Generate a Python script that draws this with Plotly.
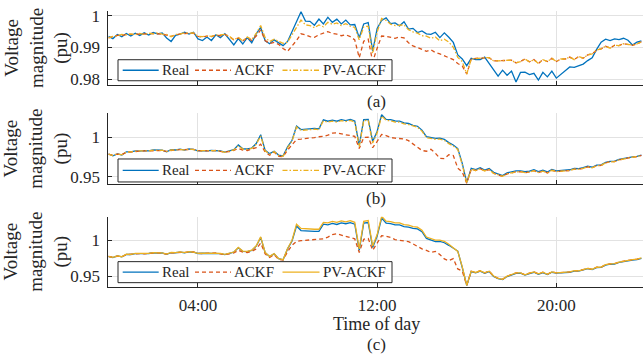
import numpy as np
import plotly.graph_objects as go

# time of day in hours (12-minute samples)
hours = np.round(np.arange(0, 24, 0.2), 1)

# ---------------- panel (a) ----------------
real_a = [0.9935, 0.9928, 0.9941, 0.9934, 0.9944, 0.9936, 0.9945, 0.9938, 0.9946, 0.9939,
          0.9947, 0.9943, 0.9946, 0.9930, 0.9919, 0.9938, 0.9942, 0.9948, 0.9942, 0.9948,
          0.9927, 0.9922, 0.9933, 0.9922, 0.9940, 0.9931, 0.9943, 0.9926, 0.9908, 0.9928,
          0.9911, 0.9931, 0.9915, 0.9943, 0.9963, 0.9921, 0.9912, 0.9924, 0.9914, 0.9906,
          0.9919, 0.9949, 0.9978, 1.0012, 0.9983, 0.9982, 0.9970, 0.9989, 0.9974, 0.9995,
          0.9979, 0.9989, 0.9974, 0.9986, 0.9971, 0.9972, 0.9931, 0.9974, 0.9978, 0.9889,
          0.9960, 0.9985, 0.9993, 0.9975, 0.9977, 0.9968, 0.9981, 0.9958, 0.9960, 0.9947,
          0.9952, 0.9943, 0.9941, 0.9948, 0.9931, 0.9946, 0.9932, 0.9916, 0.9877, 0.9864,
          0.9843, 0.9866, 0.9862, 0.9862, 0.9870, 0.9850, 0.9832, 0.9810, 0.9829, 0.9813,
          0.9826, 0.9792, 0.9822, 0.9823, 0.9815, 0.9819, 0.9798, 0.9822, 0.9808, 0.9826,
          0.9804, 0.9816, 0.9826, 0.9839, 0.9838, 0.9843, 0.9848, 0.9859, 0.9868, 0.9894,
          0.9917, 0.9926, 0.9922, 0.9927, 0.9925, 0.9929, 0.9923, 0.9908, 0.9917, 0.9921]
ackf_a = [0.9930, 0.9933, 0.9938, 0.9938, 0.9941, 0.9941, 0.9941, 0.9942, 0.9942, 0.9943,
          0.9944, 0.9944, 0.9942, 0.9939, 0.9935, 0.9939, 0.9943, 0.9944, 0.9945, 0.9945,
          0.9935, 0.9933, 0.9936, 0.9934, 0.9939, 0.9937, 0.9941, 0.9934, 0.9924, 0.9930,
          0.9921, 0.9930, 0.9922, 0.9936, 0.9955, 0.9922, 0.9912, 0.9916, 0.9910, 0.9897,
          0.9888, 0.9905, 0.9922, 0.9943, 0.9940, 0.9934, 0.9932, 0.9940, 0.9945, 0.9950,
          0.9944, 0.9942, 0.9937, 0.9940, 0.9934, 0.9924, 0.9868, 0.9920, 0.9926, 0.9856,
          0.9898, 0.9936, 0.9935, 0.9932, 0.9929, 0.9933, 0.9930, 0.9915, 0.9905, 0.9900,
          0.9894, 0.9888, 0.9893, 0.9884, 0.9880, 0.9874, 0.9868, 0.9862, 0.9850, 0.9842,
          0.9817, 0.9864, 0.9866, 0.9866, 0.9868, 0.9868, 0.9858, 0.9858, 0.9860, 0.9860,
          0.9860, 0.9852, 0.9856, 0.9864, 0.9855, 0.9862, 0.9850, 0.9862, 0.9856, 0.9866,
          0.9856, 0.9864, 0.9864, 0.9870, 0.9862, 0.9872, 0.9866, 0.9877, 0.9880, 0.9892,
          0.9896, 0.9904, 0.9898, 0.9907, 0.9906, 0.9912, 0.9910, 0.9907, 0.9911, 0.9918]
pv_a = [0.9930, 0.9935, 0.9937, 0.9941, 0.9940, 0.9943, 0.9940, 0.9944, 0.9941, 0.9945,
        0.9943, 0.9946, 0.9942, 0.9941, 0.9934, 0.9941, 0.9942, 0.9946, 0.9945, 0.9946,
        0.9935, 0.9934, 0.9936, 0.9935, 0.9939, 0.9939, 0.9941, 0.9936, 0.9924, 0.9932,
        0.9921, 0.9933, 0.9925, 0.9944, 0.9969, 0.9931, 0.9919, 0.9926, 0.9920, 0.9913,
        0.9917, 0.9941, 0.9961, 0.9986, 0.9971, 0.9969, 0.9962, 0.9971, 0.9965, 0.9979,
        0.9973, 0.9977, 0.9969, 0.9975, 0.9967, 0.9963, 0.9924, 0.9965, 0.9967, 0.9881,
        0.9949, 0.9991, 0.9985, 0.9973, 0.9969, 0.9969, 0.9971, 0.9956, 0.9949, 0.9945,
        0.9937, 0.9936, 0.9929, 0.9933, 0.9921, 0.9926, 0.9917, 0.9901, 0.9869, 0.9856,
        0.9817, 0.9864, 0.9866, 0.9866, 0.9868, 0.9868, 0.9858, 0.9858, 0.9860, 0.9860,
        0.9860, 0.9852, 0.9856, 0.9864, 0.9855, 0.9862, 0.9850, 0.9862, 0.9856, 0.9866,
        0.9856, 0.9864, 0.9864, 0.9870, 0.9862, 0.9872, 0.9866, 0.9877, 0.9880, 0.9892,
        0.9896, 0.9904, 0.9898, 0.9907, 0.9906, 0.9912, 0.9910, 0.9907, 0.9911, 0.9918]

# ---------------- panel (b) ----------------
real_b = [0.9790, 0.9768, 0.9792, 0.9778, 0.9818, 0.9818, 0.9830, 0.9826, 0.9832, 0.9831,
          0.9842, 0.9838, 0.9840, 0.9818, 0.9844, 0.9841, 0.9852, 0.9840, 0.9854, 0.9848,
          0.9831, 0.9834, 0.9829, 0.9835, 0.9834, 0.9830, 0.9814, 0.9834, 0.9846, 0.9905,
          0.9856, 0.9854, 0.9866, 0.9924, 1.0035, 0.9836, 0.9794, 0.9826, 0.9776, 0.9766,
          0.9880, 0.9965, 1.0146, 1.0101, 1.0106, 1.0104, 1.0116, 1.0111, 1.0226, 1.0208,
          1.0222, 1.0208, 1.0229, 1.0216, 1.0232, 1.0211, 0.9900, 1.0229, 1.0232, 0.9950,
          1.0080, 1.0290, 1.0231, 1.0229, 1.0211, 1.0209, 1.0186, 1.0179, 1.0156, 1.0144,
          1.0095, 1.0011, 1.0002, 0.9990, 0.9992, 0.9976, 0.9935, 0.9905, 0.9860, 0.9670,
          0.9425, 0.9609, 0.9591, 0.9614, 0.9586, 0.9604, 0.9556, 0.9534, 0.9516, 0.9549,
          0.9561, 0.9574, 0.9576, 0.9564, 0.9571, 0.9589, 0.9566, 0.9584, 0.9561, 0.9594,
          0.9576, 0.9579, 0.9591, 0.9589, 0.9606, 0.9604, 0.9616, 0.9634, 0.9621, 0.9649,
          0.9651, 0.9684, 0.9696, 0.9699, 0.9721, 0.9734, 0.9741, 0.9754, 0.9761, 0.9777]
ackf_b = [0.9788, 0.9775, 0.9789, 0.9784, 0.9811, 0.9819, 0.9824, 0.9827, 0.9829, 0.9832,
          0.9835, 0.9839, 0.9834, 0.9824, 0.9837, 0.9842, 0.9845, 0.9844, 0.9847, 0.9849,
          0.9832, 0.9827, 0.9831, 0.9829, 0.9835, 0.9824, 0.9814, 0.9822, 0.9835, 0.9860,
          0.9840, 0.9835, 0.9850, 0.9870, 0.9915, 0.9815, 0.9775, 0.9815, 0.9760, 0.9755,
          0.9840, 0.9915, 0.9975, 0.9980, 0.9985, 0.9995, 1.0000, 1.0010, 1.0015, 1.0030,
          1.0055, 1.0060, 1.0045, 1.0035, 1.0025, 1.0015, 0.9860, 1.0000, 1.0005, 0.9870,
          0.9950, 1.0040, 1.0025, 1.0000, 0.9992, 0.9988, 0.9982, 0.9960, 0.9915, 0.9880,
          0.9835, 0.9825, 0.9850, 0.9800, 0.9735, 0.9730, 0.9780, 0.9770, 0.9610, 0.9560,
          0.9418, 0.9596, 0.9579, 0.9602, 0.9574, 0.9592, 0.9544, 0.9524, 0.9506, 0.9537,
          0.9549, 0.9562, 0.9564, 0.9552, 0.9559, 0.9577, 0.9554, 0.9572, 0.9549, 0.9582,
          0.9566, 0.9569, 0.9581, 0.9580, 0.9596, 0.9596, 0.9608, 0.9626, 0.9613, 0.9642,
          0.9644, 0.9677, 0.9690, 0.9693, 0.9715, 0.9729, 0.9736, 0.9749, 0.9756, 0.9772]
pv_b = [0.9788, 0.9770, 0.9792, 0.9780, 0.9815, 0.9816, 0.9828, 0.9825, 0.9831, 0.9830,
        0.9840, 0.9837, 0.9838, 0.9820, 0.9842, 0.9840, 0.9850, 0.9840, 0.9852, 0.9847,
        0.9830, 0.9832, 0.9828, 0.9833, 0.9832, 0.9828, 0.9812, 0.9830, 0.9842, 0.9895,
        0.9852, 0.9850, 0.9861, 0.9914, 1.0020, 0.9831, 0.9789, 0.9821, 0.9772, 0.9760,
        0.9870, 0.9955, 1.0135, 1.0091, 1.0096, 1.0094, 1.0106, 1.0101, 1.0214, 1.0196,
        1.0210, 1.0196, 1.0216, 1.0204, 1.0219, 1.0198, 0.9880, 1.0216, 1.0220, 0.9930,
        1.0060, 1.0275, 1.0218, 1.0216, 1.0198, 1.0196, 1.0174, 1.0166, 1.0144, 1.0132,
        1.0082, 0.9998, 0.9990, 0.9978, 0.9980, 0.9964, 0.9922, 0.9892, 0.9848, 0.9655,
        0.9418, 0.9596, 0.9579, 0.9602, 0.9574, 0.9592, 0.9544, 0.9524, 0.9506, 0.9537,
        0.9549, 0.9562, 0.9564, 0.9552, 0.9559, 0.9577, 0.9554, 0.9572, 0.9549, 0.9582,
        0.9566, 0.9569, 0.9581, 0.9580, 0.9596, 0.9596, 0.9608, 0.9626, 0.9613, 0.9642,
        0.9644, 0.9677, 0.9690, 0.9693, 0.9715, 0.9729, 0.9736, 0.9749, 0.9756, 0.9772]

# ---------------- panel (c) ----------------
real_c = [0.9775, 0.9758, 0.9781, 0.9768, 0.9803, 0.9802, 0.9815, 0.9811, 0.9815, 0.9816,
          0.9826, 0.9822, 0.9823, 0.9804, 0.9828, 0.9826, 0.9836, 0.9826, 0.9839, 0.9834,
          0.9816, 0.9819, 0.9816, 0.9820, 0.9820, 0.9815, 0.9801, 0.9821, 0.9834, 0.9895,
          0.9846, 0.9843, 0.9858, 0.9918, 1.0040, 0.9826, 0.9773, 0.9811, 0.9743, 0.9727,
          0.9880, 0.9990, 1.0200, 1.0136, 1.0129, 1.0128, 1.0124, 1.0124, 1.0225, 1.0216,
          1.0236, 1.0221, 1.0244, 1.0231, 1.0246, 1.0224, 0.9860, 1.0239, 1.0248, 0.9900,
          1.0060, 1.0310, 1.0241, 1.0234, 1.0214, 1.0214, 1.0191, 1.0184, 1.0166, 1.0159,
          1.0120, 1.0026, 0.9999, 0.9981, 0.9984, 0.9966, 0.9930, 0.9895, 0.9850, 0.9620,
          0.9370, 0.9564, 0.9546, 0.9569, 0.9541, 0.9564, 0.9496, 0.9464, 0.9451, 0.9494,
          0.9516, 0.9539, 0.9541, 0.9514, 0.9536, 0.9554, 0.9526, 0.9549, 0.9521, 0.9554,
          0.9541, 0.9544, 0.9556, 0.9554, 0.9571, 0.9569, 0.9586, 0.9604, 0.9591, 0.9619,
          0.9621, 0.9654, 0.9666, 0.9669, 0.9691, 0.9704, 0.9711, 0.9724, 0.9731, 0.9749]
ackf_c = [0.9774, 0.9763, 0.9777, 0.9772, 0.9799, 0.9805, 0.9811, 0.9814, 0.9812, 0.9819,
          0.9822, 0.9825, 0.9819, 0.9808, 0.9824, 0.9829, 0.9832, 0.9829, 0.9835, 0.9837,
          0.9819, 0.9815, 0.9819, 0.9816, 0.9823, 0.9810, 0.9800, 0.9810, 0.9825, 0.9860,
          0.9835, 0.9830, 0.9845, 0.9880, 0.9960, 0.9810, 0.9760, 0.9800, 0.9735, 0.9725,
          0.9840, 0.9930, 0.9985, 0.9995, 1.0000, 1.0005, 1.0015, 1.0010, 1.0020, 1.0045,
          1.0080, 1.0090, 1.0070, 1.0050, 1.0035, 1.0020, 0.9830, 1.0015, 1.0025, 0.9860,
          0.9960, 1.0065, 1.0055, 1.0040, 1.0010, 0.9998, 0.9990, 0.9980, 0.9950, 0.9915,
          0.9880, 0.9860, 0.9830, 0.9845, 0.9800, 0.9740, 0.9715, 0.9745, 0.9600, 0.9570,
          0.9372, 0.9569, 0.9551, 0.9574, 0.9546, 0.9569, 0.9501, 0.9469, 0.9456, 0.9499,
          0.9521, 0.9544, 0.9546, 0.9519, 0.9541, 0.9559, 0.9531, 0.9554, 0.9526, 0.9559,
          0.9546, 0.9549, 0.9561, 0.9559, 0.9576, 0.9574, 0.9591, 0.9609, 0.9596, 0.9624,
          0.9626, 0.9659, 0.9671, 0.9674, 0.9696, 0.9709, 0.9716, 0.9729, 0.9736, 0.9754]
pv_c = [0.9777, 0.9761, 0.9783, 0.9771, 0.9805, 0.9804, 0.9817, 0.9813, 0.9818, 0.9818,
        0.9828, 0.9824, 0.9825, 0.9807, 0.9830, 0.9828, 0.9838, 0.9828, 0.9841, 0.9836,
        0.9818, 0.9821, 0.9818, 0.9822, 0.9822, 0.9818, 0.9803, 0.9823, 0.9836, 0.9900,
        0.9849, 0.9846, 0.9861, 0.9923, 1.0048, 0.9829, 0.9775, 0.9814, 0.9745, 0.9730,
        0.9885, 1.0000, 1.0225, 1.0166, 1.0159, 1.0156, 1.0154, 1.0154, 1.0250, 1.0244,
        1.0264, 1.0251, 1.0272, 1.0258, 1.0274, 1.0251, 0.9880, 1.0266, 1.0275, 0.9920,
        1.0080, 1.0335, 1.0268, 1.0262, 1.0242, 1.0242, 1.0218, 1.0212, 1.0192, 1.0184,
        1.0140, 1.0046, 1.0019, 1.0001, 1.0002, 0.9986, 0.9945, 0.9898, 0.9845, 0.9630,
        0.9372, 0.9569, 0.9551, 0.9574, 0.9546, 0.9569, 0.9501, 0.9469, 0.9456, 0.9499,
        0.9521, 0.9544, 0.9546, 0.9519, 0.9541, 0.9559, 0.9531, 0.9554, 0.9526, 0.9559,
        0.9546, 0.9549, 0.9561, 0.9559, 0.9576, 0.9574, 0.9591, 0.9609, 0.9596, 0.9624,
        0.9626, 0.9659, 0.9671, 0.9674, 0.9696, 0.9709, 0.9716, 0.9729, 0.9736, 0.9754]

x_tickvals = [4, 12, 20]
x_ticktext = ["04:00", "12:00", "20:00"]
series_names = ["Real", "ACKF", "PV-ACKF"]
panel_labels = ["(a)", "(b)", "(c)"]

W, H = 644, 360
FONT = "Liberation Serif"
AXC = "#262626"
GRID = "#e2e2e2"
BLUE, ORANGE, YELLOW = "#0072BD", "#D95319", "#EDB120"
COLORS = [BLUE, ORANGE, YELLOW]
ACKF_DASH = "4px,3px"
PV_DASHDOT = "5px,2px,1.5px,2px"
LW = 1.3


def px_x(p):
    return p / W


def px_y(p):
    return 1 - p / H


panels = [
    dict(data=(real_a, ackf_a, pv_a), top=7, bot=83, rng=[0.9782, 1.0015],
         ytv=[0.98, 0.99, 1.0], ytt=["0.98", "0.99", "1"], pvdash=PV_DASHDOT,
         leg=(57, 78.5), lab_y=100),
    dict(data=(real_b, ackf_b, pv_b), top=111.7, bot=184.3, rng=[0.9405, 1.031],
         ytv=[0.95, 1.0], ytt=["0.95", "1"], pvdash=PV_DASHDOT,
         leg=(158.5, 182), lab_y=199),
    dict(data=(real_c, ackf_c, pv_c), top=217.7, bot=289.3, rng=[0.935, 1.0327],
         ytv=[0.95, 1.0], ytt=["0.95", "1"], pvdash="solid",
         leg=(263.5, 285), lab_y=348),
]

# legend layout (pixels): sample start/end and text start for each entry
LEG_BOX_X = (118, 392)
LEG_SAMPLES = [(122.7, 158.7, 161.0), (195.0, 231.0, 233.5), (282.5, 319.5, 322.0)]

fig = go.Figure()
annotations = []
shapes = []
layout = dict(width=W, height=H, margin=dict(l=0, r=0, t=0, b=0),
              paper_bgcolor="white", plot_bgcolor="white", showlegend=False,
              font=dict(family=FONT, color=AXC))

for k, p in enumerate(panels):
    sfx = "" if k == 0 else str(k + 1)
    xa, ya = "x" + sfx, "y" + sfx
    real, ackf, pv = p["data"]
    dashes = ["solid", ACKF_DASH, p["pvdash"]]
    for s, vals in enumerate((real, ackf, pv)):
        fig.add_trace(go.Scatter(x=hours, y=vals, mode="lines", name=series_names[s],
                                 line=dict(color=COLORS[s], width=LW, dash=dashes[s]),
                                 xaxis=xa, yaxis=ya, showlegend=False))

    layout["xaxis" + sfx] = dict(
        domain=[px_x(108.4), px_x(643)], range=[0, 23.87], anchor=ya,
        tickvals=x_tickvals, ticktext=x_ticktext, showticklabels=(k == 2),
        tickfont=dict(family=FONT, size=17, color=AXC), ticklabelstandoff=3,
        showgrid=True, gridcolor=GRID, gridwidth=1, zeroline=False,
        showline=True, linecolor=AXC, linewidth=1, ticks="inside", ticklen=4,
        tickcolor=AXC, mirror=False)
    layout["yaxis" + sfx] = dict(
        domain=[px_y(p["bot"]), px_y(p["top"])], range=p["rng"], anchor=xa,
        tickvals=p["ytv"], ticktext=p["ytt"],
        tickfont=dict(family=FONT, size=17, color=AXC), ticklabelstandoff=4,
        showgrid=True, gridcolor=GRID, gridwidth=1, zeroline=False,
        showline=True, linecolor=AXC, linewidth=1, ticks="inside", ticklen=4,
        tickcolor=AXC, mirror=False)

    # legend box drawn in the lower-left corner of each panel
    t, b = p["leg"]
    cy = (t + b) / 2
    shapes.append(dict(type="rect", xref="paper", yref="paper",
                       x0=px_x(LEG_BOX_X[0]), x1=px_x(LEG_BOX_X[1]),
                       y0=px_y(b), y1=px_y(t), fillcolor="white",
                       line=dict(color=AXC, width=1), layer="above"))
    for s, (sx0, sx1, tx) in enumerate(LEG_SAMPLES):
        shapes.append(dict(type="line", xref="paper", yref="paper",
                           x0=px_x(sx0), x1=px_x(sx1), y0=px_y(cy), y1=px_y(cy),
                           line=dict(color=COLORS[s], width=LW, dash=dashes[s]),
                           layer="above"))
        annotations.append(dict(x=px_x(tx), y=px_y(cy), xref="paper", yref="paper",
                                text=series_names[s], showarrow=False,
                                xanchor="left", yanchor="middle", borderpad=0,
                                font=dict(family=FONT, size=15, color=AXC)))

    annotations.append(dict(
        x=px_x(36), y=px_y((p["top"] + p["bot"]) / 2), xref="paper", yref="paper",
        text="Voltage<br>magnitude<br>(pu)", showarrow=False, textangle=-90,
        font=dict(family=FONT, size=19, color=AXC), xanchor="center", yanchor="middle"))
    annotations.append(dict(
        x=px_x(376), y=px_y(p["lab_y"]), xref="paper", yref="paper",
        text=panel_labels[k], showarrow=False, borderpad=0,
        font=dict(family=FONT, size=17, color=AXC), xanchor="center", yanchor="middle"))

annotations.append(dict(
    x=px_x(376), y=px_y(327), xref="paper", yref="paper", text="Time of day",
    showarrow=False, borderpad=0, font=dict(family=FONT, size=18, color=AXC),
    xanchor="center", yanchor="middle"))

layout["annotations"] = annotations
layout["shapes"] = shapes
fig.update_layout(**layout)
fig.write_html("out.html")
